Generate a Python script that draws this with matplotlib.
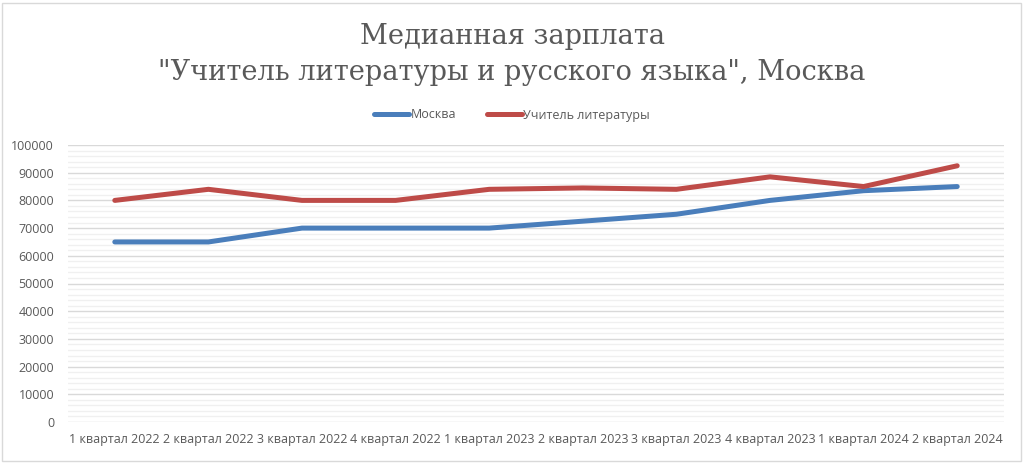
import matplotlib.pyplot as plt
from matplotlib.patches import Rectangle
from matplotlib.ticker import MultipleLocator

plt.rcParams['font.family'] = ['Open Sans', 'DejaVu Sans']

# Data
quarters = ['1 квартал 2022', '2 квартал 2022', '3 квартал 2022', '4 квартал 2022',
            '1 квартал 2023', '2 квартал 2023', '3 квартал 2023', '4 квартал 2023',
            '1 квартал 2024', '2 квартал 2024']
moscow = [65000, 65000, 70000, 70000, 70000, 72500, 75000, 80000, 83500, 85000]
teacher = [80000, 84000, 80000, 80000, 84000, 84500, 84000, 88500, 85000, 92500]

text_color = '#595959'

fig = plt.figure(figsize=(10.24, 4.63), dpi=100)
ax = fig.add_axes([68 / 1024, 41 / 463, 936 / 1024, 277 / 463])

x = range(len(quarters))
ax.plot(x, moscow, color='#4a7ebb', lw=3.6, solid_capstyle='round', label='Москва', zorder=3)
ax.plot(x, teacher, color='#be4b48', lw=3.6, solid_capstyle='round', label='Учитель литературы', zorder=3)

ax.set_xlim(-0.5, len(quarters) - 0.5)
ax.set_ylim(0, 100000)
ax.yaxis.set_major_locator(MultipleLocator(10000))
ax.yaxis.set_minor_locator(MultipleLocator(2000))
ax.set_xticks(list(x))
ax.set_xticklabels(quarters)
ax.grid(which='major', axis='y', color='#d9d9d9', lw=1)
ax.grid(which='minor', axis='y', color='#f0f0f0', lw=1)
ax.set_axisbelow(True)
for s in ax.spines.values():
    s.set_visible(False)
ax.tick_params(which='both', length=0, colors=text_color, labelsize=9)
ax.tick_params(axis='y', pad=10)
ax.tick_params(axis='x', pad=8)

# title in a serif face, like the original
title_font = ['DejaVu Serif']
fig.text(0.5, 1 - 37 / 463, 'Медианная зарплата', ha='center', va='center',
         fontsize=19.6, color=text_color, family=title_font)
fig.text(0.5, 1 - 73 / 463, '"Учитель литературы и русского языка", Москва', ha='center',
         va='center', fontsize=19.6, color=text_color, family=title_font)

leg = fig.legend(loc='center', bbox_to_anchor=(0.5, 1 - 115 / 463), ncol=2, frameon=False,
                 fontsize=9, handlelength=2.8, handletextpad=0.1, columnspacing=2.5)
for t in leg.get_texts():
    t.set_color(text_color)

fig.patches.append(Rectangle((2 / 1024, 2 / 463), 1019 / 1024, 458 / 463, transform=fig.transFigure,
                             fill=False, edgecolor='#d9d9d9', lw=1))

fig.savefig('out.png', dpi=100)
